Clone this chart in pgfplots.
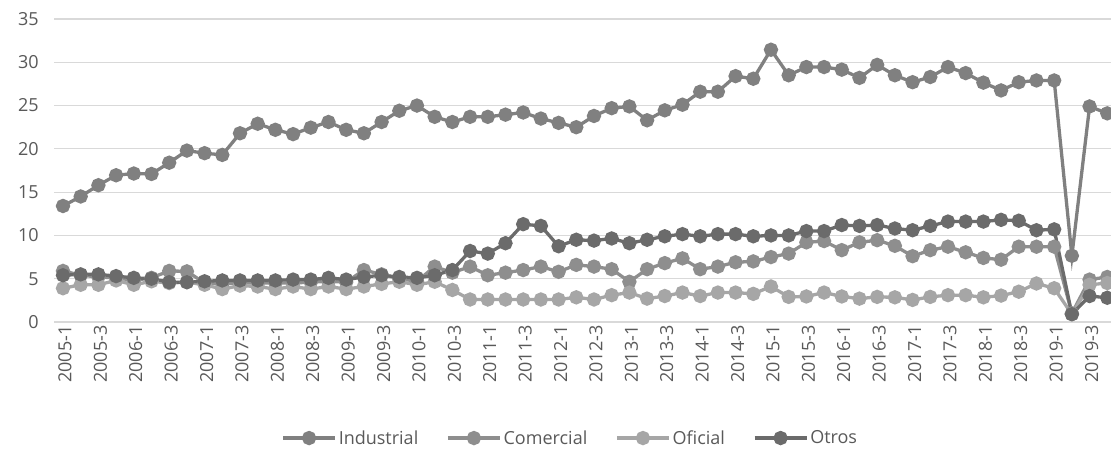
\documentclass[border=0pt]{standalone}
\usepackage{pgfplots}
\usepackage{pgfplotstable}
\pgfplotsset{compat=1.18}
\usepackage{fontspec}
\setmainfont{Open Sans}
\definecolor{cInd}{HTML}{808080}
\definecolor{cCom}{HTML}{8E8E8E}
\definecolor{cOfi}{HTML}{A6A6A6}
\definecolor{cOtr}{HTML}{6B6B6B}
\definecolor{txt}{HTML}{595959}
\definecolor{gridc}{HTML}{D9D9D9}

\pgfplotstableread{
i ind com ofi otr
0 13.4 5.9 3.9 5.4
1 14.5 5.4 4.3 5.5
2 15.8 5.2 4.3 5.5
3 16.95 5.1 4.8 5.3
4 17.15 4.8 4.3 5.1
5 17.1 5.1 4.7 5.0
6 18.4 5.9 4.5 4.6
7 19.8 5.85 4.6 4.6
8 19.5 4.5 4.3 4.7
9 19.3 4.4 3.8 4.8
10 21.8 4.5 4.2 4.8
11 22.9 4.5 4.1 4.8
12 22.2 4.5 3.8 4.8
13 21.7 4.5 4.1 4.9
14 22.45 4.6 3.8 4.9
15 23.1 4.7 4.1 5.1
16 22.2 4.6 3.8 4.9
17 21.8 6.0 4.1 5.2
18 23.1 5.5 4.4 5.4
19 24.4 5.0 4.65 5.2
20 25.0 4.7 4.3 5.1
21 23.7 6.4 4.65 5.4
22 23.1 5.7 3.7 6.0
23 23.7 6.4 2.6 8.2
24 23.7 5.4 2.6 7.9
25 23.95 5.7 2.6 9.1
26 24.2 6.0 2.6 11.3
27 23.5 6.4 2.6 11.1
28 23.0 5.8 2.6 8.75
29 22.5 6.6 2.85 9.5
30 23.8 6.4 2.6 9.4
31 24.7 6.1 3.1 9.65
32 24.9 4.65 3.4 9.1
33 23.3 6.1 2.7 9.5
34 24.45 6.8 3.0 9.9
35 25.1 7.35 3.4 10.15
36 26.6 6.1 3.0 9.9
37 26.6 6.4 3.4 10.15
38 28.4 6.9 3.4 10.15
39 28.1 7.0 3.25 9.9
40 31.45 7.5 4.1 10.0
41 28.5 7.9 2.9 10.0
42 29.45 9.2 2.95 10.5
43 29.45 9.35 3.4 10.5
44 29.15 8.3 2.95 11.2
45 28.2 9.2 2.7 11.1
46 29.7 9.45 2.9 11.2
47 28.5 8.8 2.85 10.8
48 27.7 7.6 2.55 10.6
49 28.3 8.3 2.9 11.1
50 29.45 8.7 3.1 11.6
51 28.75 8.05 3.1 11.6
52 27.65 7.4 2.85 11.6
53 26.75 7.2 3.05 11.8
54 27.7 8.7 3.5 11.7
55 27.9 8.7 4.45 10.6
56 27.9 8.7 3.9 10.7
57 7.65 1.0 0.9 0.9
58 24.9 4.9 4.3 3.0
59 24.1 5.2 4.5 2.8
}\data

\begin{document}
\begin{tikzpicture}
\useasboundingbox (0bp,0bp) rectangle (1111bp,452bp);
\begin{axis}[
  at={(54.15bp,130bp)}, anchor=south west,
  scale only axis, width=1062bp, height=303bp,
  xmin=-0.5, xmax=59.5, ymin=0, ymax=35,
  ytick={0,5,...,35},
  xtick={0,2,...,58},
  xticklabels={2005-1,2005-3,2006-1,2006-3,2007-1,2007-3,2008-1,2008-3,2009-1,2009-3,2010-1,2010-3,2011-1,2011-3,2012-1,2012-3,2013-1,2013-3,2014-1,2014-3,2015-1,2015-3,2016-1,2016-3,2017-1,2017-3,2018-1,2018-3,2019-1,2019-3},
  axis line style={draw=none},
  tick style={draw=none},
  ymajorgrids, major grid style={gridc, line width=1.2bp},
  /pgf/number format/assume math mode=true,
  tick label style={font=\fontsize{18bp}{22bp}\selectfont, text=txt},
  yticklabel style={xshift=-12bp},
  xticklabel style={rotate=90, anchor=east, xshift=0bp, yshift=-2bp},
  legend columns=4,
  legend style={at={(0.486,-0.383)}, anchor=center, draw=none, fill=none,
    font=\fontsize{18bp}{22bp}\selectfont, text=txt,
    /tikz/every even column/.append style={column sep=26bp}},
  legend image code/.code={\draw[mark repeat=2,mark phase=2,#1] plot coordinates {(0bp,0bp) (26bp,0bp) (52bp,0bp)};},
  every axis plot/.append style={line width=3.3bp, mark=*, mark size=5.5bp, mark options={solid}},
]
\addplot[cInd, mark options={fill=cInd, draw=cInd}] table[x=i, y=ind] {\data};
\addlegendentry{Industrial}
\addplot[cCom, mark options={fill=cCom, draw=cCom}] table[x=i, y=com] {\data};
\addlegendentry{Comercial}
\addplot[cOfi, mark options={fill=cOfi, draw=cOfi}] table[x=i, y=ofi] {\data};
\addlegendentry{Oficial}
\addplot[cOtr, mark options={fill=cOtr, draw=cOtr}] table[x=i, y=otr] {\data};
\addlegendentry{Otros}
\end{axis}
\end{tikzpicture}
\end{document}
